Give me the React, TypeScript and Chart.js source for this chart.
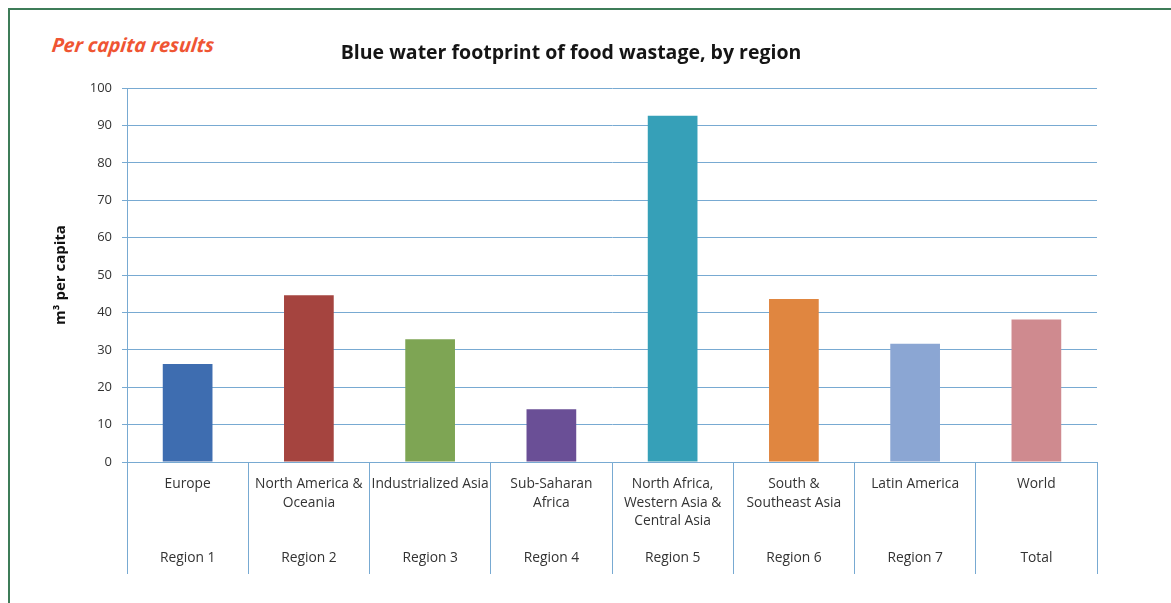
import React, { useEffect, useRef } from "react";
import { Chart, registerables } from "chart.js";

Chart.register(...registerables);

const FONT = "'Open Sans', 'Noto Sans', sans-serif";

// Category names (multi-line as printed under each bar)
const regionNames: string[][] = [
  ["Europe"],
  ["North America &", "Oceania"],
  ["Industrialized Asia"],
  ["Sub-Saharan", "Africa"],
  ["North Africa,", "Western Asia &", "Central Asia"],
  ["South &", "Southeast Asia"],
  ["Latin America"],
  ["World"],
];

const regionCodes: string[] = [
  "Region 1",
  "Region 2",
  "Region 3",
  "Region 4",
  "Region 5",
  "Region 6",
  "Region 7",
  "Total",
];

// m³ per capita
const blueWaterPerCapita: number[] = [26.2, 44.6, 32.8, 14.1, 92.6, 43.6, 31.6, 38.1];

const barColors: string[] = [
  "#3E6DB0",
  "#A5443F",
  "#7EA554",
  "#6A4F96",
  "#36A0B8",
  "#E08640",
  "#8BA6D3",
  "#CF8A8F",
];

const yMin = 0;
const yMax = 100;
const yStep = 10;

const chartTitle = "Blue water footprint of food wastage, by region";
const sideNote = "Per capita results";
const yAxisTitle = "m\u00B3 per capita";

const GRID = "#78AAD2";

export default function App() {
  const canvasRef = useRef<HTMLCanvasElement | null>(null);

  useEffect(() => {
    if (!canvasRef.current) return;
    Chart.defaults.font.family = FONT;

    const labels = regionNames.map((lines, i) => {
      const l = [...lines];
      while (l.length < 4) l.push("");
      l.push(regionCodes[i]);
      return l;
    });

    const chart = new Chart(canvasRef.current, {
      type: "bar",
      data: {
        labels,
        datasets: [
          {
            data: blueWaterPerCapita,
            backgroundColor: barColors,
            borderWidth: 0,
            barPercentage: 0.41,
            categoryPercentage: 1,
          },
        ],
      },
      options: {
        responsive: false,
        maintainAspectRatio: false,
        animation: false,
        layout: { padding: { left: 45, right: 74, top: 0, bottom: 0 } },
        plugins: {
          legend: { display: false },
          tooltip: { enabled: false },
          title: {
            display: true,
            text: chartTitle,
            color: "#151515",
            font: { family: FONT, size: 19.5, weight: "bold", lineHeight: 1.2 },
            padding: { top: 42, bottom: 22.6 },
          },
        },
        scales: {
          x: {
            grid: {
              offset: true,
              drawOnChartArea: false,
              tickLength: 112,
              color: GRID,
              lineWidth: 1,
            },
            border: { color: GRID, width: 1 },
            ticks: {
              autoSkip: false,
              maxRotation: 0,
              minRotation: 0,
              padding: -99,
              color: "#333333",
              font: { family: FONT, size: 13.8, lineHeight: 1.34 },
            },
            afterFit: (s: any) => {
              s.height = 141;
            },
          },
          y: {
            min: yMin,
            max: yMax,
            ticks: {
              stepSize: yStep,
              padding: 10,
              color: "#333333",
              font: { family: FONT, size: 13 },
            },
            grid: { color: GRID, tickLength: 5, lineWidth: 1 },
            border: { color: GRID, width: 1 },
            title: {
              display: true,
              text: yAxisTitle,
              color: "#111111",
              font: { family: FONT, size: 15, weight: "bold" },
              padding: { top: 7, bottom: 0 },
            },
            afterFit: (s: any) => {
              s.width = 127 - 45;
            },
          },
        },
      },
    });
    return () => chart.destroy();
  }, []);

  return (
    <div
      style={{
        position: "fixed",
        left: 0,
        top: 0,
        width: 1171,
        height: 603,
        background: "#ffffff",
        overflow: "hidden",
      }}
    >
      <div
        style={{
          position: "absolute",
          left: 8,
          top: 8,
          width: 1171,
          height: 603,
          borderLeft: "2px solid #3E7C58",
          borderTop: "2px solid #3E7C58",
        }}
      />
      <div
        style={{
          position: "absolute",
          left: 52,
          top: 31,
          fontFamily: FONT,
          fontStyle: "italic",
          fontWeight: "bold",
          fontSize: 19.5,
          color: "#EF5533",
          whiteSpace: "nowrap",
          transform: "skewX(-6deg)",
        }}
      >
        {sideNote}
      </div>
      <canvas
        ref={canvasRef}
        width={1171}
        height={603}
        style={{ position: "absolute", left: 0, top: 0, width: 1171, height: 603 }}
      />
    </div>
  );
}
